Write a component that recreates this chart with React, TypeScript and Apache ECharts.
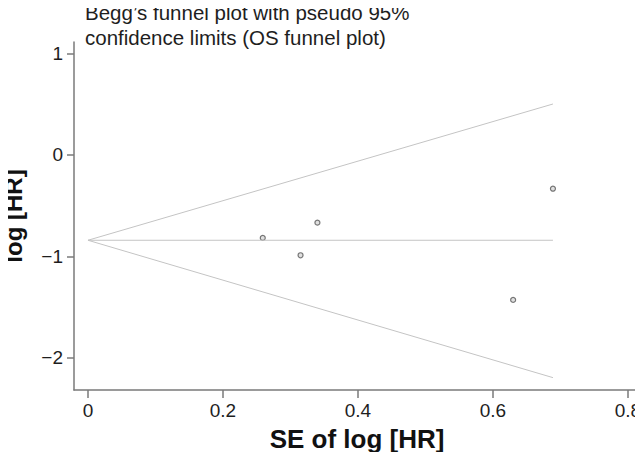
import React, { useEffect, useRef } from "react";
import * as echarts from "echarts";

// Study estimates (standard error, log hazard ratio)
const studySE = [0.259, 0.315, 0.34, 0.63, 0.689];
const studyLogHR = [-0.819, -0.99, -0.668, -1.431, -0.333];

// Funnel (pseudo 95% limits)
const funnelSE = [0, 0.689];
const upperLimit = [-0.842, 0.503];
const lowerLimit = [-0.842, -2.198];
const pooledLine = [-0.842, -0.842];

const xTicks = [0, 0.2, 0.4, 0.6, 0.8];
const yTicks = [-2, -1, 0, 1];

const titleText = "Begg\u2019s funnel plot with pseudo 95%\nconfidence limits (OS funnel plot)";
const xName = "SE of log [HR]";
const yName = "log [HR]";

const FONT = "'Liberation Sans', Arial, Helvetica, sans-serif";

export default function App() {
  const ref = useRef<HTMLDivElement>(null);
  useEffect(() => {
    if (!ref.current) return;
    const chart = echarts.init(ref.current, null, { renderer: "svg" });
    const axisColor = "#7a7a7a";
    const funnelColor = "#c4c4c4";
    const pairs = (ys: number[]) => funnelSE.map((x, i) => [x, ys[i]]);
    chart.setOption({
      animation: false,
      backgroundColor: "#ffffff",
      title: {
        text: titleText,
        left: 80,
        top: -5,
        padding: 5,
        textStyle: {
          fontFamily: FONT,
          fontSize: 20.5,
          fontWeight: "normal",
          color: "#1e1e1e",
          lineHeight: 25,
        },
      },
      grid: {
        left: 74,
        right: 3,
        top: 42,
        bottom: 70,
        containLabel: false,
        outerBoundsMode: "none",
      },
      xAxis: {
        type: "value",
        min: -0.0207,
        max: 0.818,
        name: xName,
        nameLocation: "middle",
        nameGap: 36,
        nameTextStyle: { fontFamily: FONT, fontSize: 26, fontWeight: "bold", color: "#111" },
        axisLine: { onZero: false, lineStyle: { color: axisColor, width: 1.5 } },
        axisTick: { show: true, length: 8, customValues: xTicks, lineStyle: { color: axisColor, width: 1.5 } },
        axisLabel: {
          customValues: xTicks,
          margin: 11,
          fontFamily: FONT,
          fontSize: 19,
          color: "#1e1e1e",
          formatter: (v: number) => String(v),
        },
        splitLine: { show: false },
      },
      yAxis: {
        type: "value",
        min: -2.32,
        max: 1.115,
        name: yName,
        nameLocation: "middle",
        nameGap: 49,
        nameTextStyle: { fontFamily: FONT, fontSize: 24, fontWeight: "bold", color: "#111" },
        axisLine: { show: true, onZero: false, lineStyle: { color: axisColor, width: 1.5 } },
        axisTick: { show: true, length: 7, customValues: yTicks, lineStyle: { color: axisColor, width: 1.5 } },
        axisLabel: {
          customValues: yTicks,
          margin: 11,
          fontFamily: FONT,
          fontSize: 19,
          color: "#1e1e1e",
          formatter: (v: number) => String(v).replace("-", "\u2212"),
        },
        splitLine: { show: false },
      },
      series: [
        {
          type: "line",
          data: pairs(upperLimit),
          symbol: "none",
          lineStyle: { color: funnelColor, width: 1 },
          silent: true,
        },
        {
          type: "line",
          data: pairs(lowerLimit),
          symbol: "none",
          lineStyle: { color: funnelColor, width: 1 },
          silent: true,
        },
        {
          type: "line",
          data: pairs(pooledLine),
          symbol: "none",
          lineStyle: { color: funnelColor, width: 1 },
          silent: true,
        },
        {
          type: "scatter",
          data: studySE.map((x, i) => [x, studyLogHR[i]]),
          symbol: "circle",
          symbolSize: 5,
          itemStyle: { color: "#d8d8d8", borderColor: "#555555", borderWidth: 1.2 },
        },
      ],
    });
    return () => chart.dispose();
  }, []);
  return <div ref={ref} style={{ width: 643, height: 460, margin: -8 }} />;
}
